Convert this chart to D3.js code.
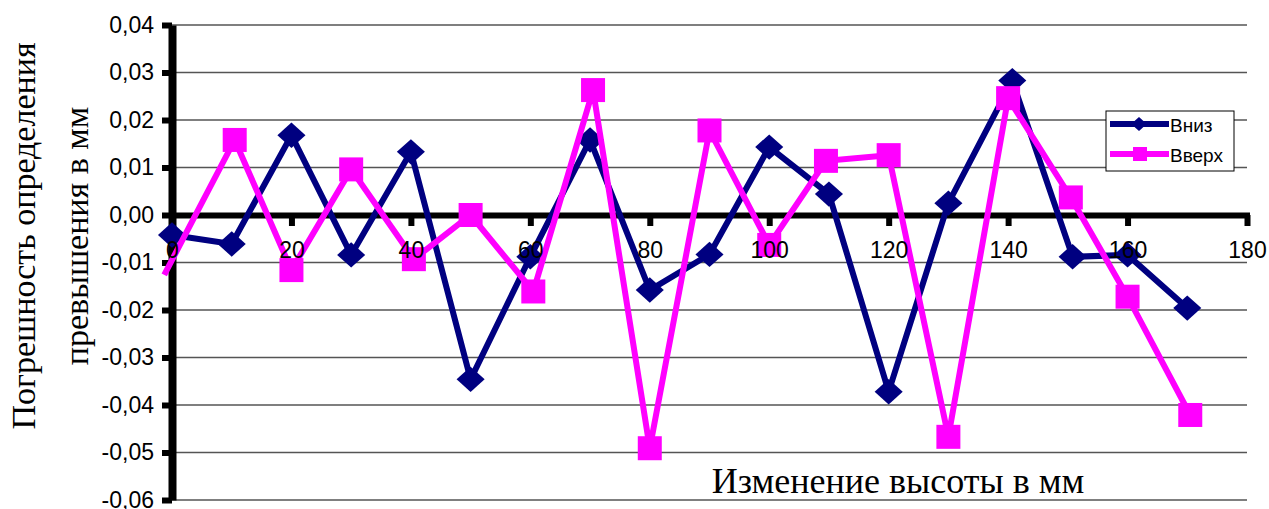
<!DOCTYPE html>
<html>
<head>
<meta charset="utf-8">
<script src="https://cdn.jsdelivr.net/npm/d3@7/dist/d3.min.js"></script>
<style>
  html, body { margin: 0; padding: 0; background: #fff; }
  svg { display: block; }
</style>
</head>
<body>
<svg id="chart" width="1269" height="509"></svg>
<script>
// Height change (mm) at which each error was measured
const downHeights = [0, 10, 20, 30, 40, 50, 60, 70, 80, 90, 100, 110, 120, 130, 140.7, 150.8, 160, 170];
const upHeights   = [-1.3, 10.5, 20, 30, 40.5, 50, 60.5, 70.5, 80, 90, 100, 109.5, 120, 130, 140, 150.5, 160, 170.5];

// Error of the height difference, mm
const downValues = [-0.0042, -0.0061, 0.0168, -0.0084, 0.0133, -0.0346, -0.0088, 0.0158, -0.0158, -0.0083,
                    0.0143, 0.0044, -0.0372, 0.0025, 0.0283, -0.0088, -0.0084, -0.0196];
const upValues   = [-0.0126, 0.0158, -0.0116, 0.0096, -0.0093, 0.0000, -0.0161, 0.0263, -0.0491, 0.0178,
                    -0.0063, 0.0114, 0.0126, -0.0467, 0.0246, 0.0037, -0.0172, -0.0421];

const seriesNames = ["Вниз", "Вверх"];
const xTicks = [0, 20, 40, 60, 80, 100, 120, 140, 160, 180];
const yTicks = [-0.06, -0.05, -0.04, -0.03, -0.02, -0.01, 0.00, 0.01, 0.02, 0.03, 0.04];
const yTitleLines = ["Погрешность определения", "превышения в мм"];
const xTitle = "Изменение высоты в мм";

const svg = d3.select("#chart");
const SANS = "'Liberation Sans', Arial, sans-serif";
const SERIF = "'Liberation Serif', 'Times New Roman', serif";

const x = d3.scaleLinear().domain([0, 180]).range([172, 1247]);
const y = d3.scaleLinear().domain([-0.06, 0.04]).range([500, 25]);

const locale = d3.formatLocale({ decimal: ",", thousands: " ", grouping: [3], currency: ["", ""], minus: "-" });
const fmt = locale.format(".2f");

// Horizontal gridlines
svg.append("g")
  .selectAll("line")
  .data(yTicks)
  .join("line")
  .attr("x1", x(0)).attr("x2", x(180))
  .attr("y1", d => y(d)).attr("y2", d => y(d))
  .attr("stroke", "#555").attr("stroke-width", 1.5);

// Axis lines and tick marks (labels are added later, above the series)
const yAxisLines = svg.append("g")
  .attr("transform", `translate(${x(0)},0)`)
  .call(d3.axisLeft(y).tickValues(yTicks).tickSize(10).tickSizeOuter(0).tickFormat(""));
yAxisLines.select(".domain").attr("stroke", "#000").attr("stroke-width", 8);
yAxisLines.selectAll(".tick line").attr("stroke", "#000").attr("stroke-width", 6);

const xAxisLines = svg.append("g")
  .attr("transform", `translate(0,${y(0)})`)
  .call(d3.axisBottom(x).tickValues(xTicks.filter(d => d > 0)).tickSize(11).tickSizeOuter(0).tickFormat(""));
xAxisLines.select(".domain").attr("stroke", "#000").attr("stroke-width", 6)
  .attr("d", `M${x(0)},0.5H${x(180) + 3}`);
xAxisLines.selectAll(".tick line").attr("stroke", "#000").attr("stroke-width", 6);

// Series
const series = [
  { name: seriesNames[0], xs: downHeights, ys: downValues, color: "#000080", marker: "diamond" },
  { name: seriesNames[1], xs: upHeights,   ys: upValues,   color: "#FF00FF", marker: "square" }
];

const line = d3.line().x(d => x(d[0])).y(d => y(d[1]));
const diamondPath = s => `M0,${-s * 0.47}L${s * 0.52},0L0,${s * 0.47}L${-s * 0.52},0Z`;

series.forEach(s => {
  const pts = s.xs.map((h, i) => [h, s.ys[i]]);
  const g = svg.append("g");
  g.append("path")
    .attr("d", line(pts))
    .attr("fill", "none")
    .attr("stroke", s.color)
    .attr("stroke-width", 6)
    .attr("stroke-linejoin", "miter");
  // markers are only shown for points inside the axis range
  const inRange = pts.filter(p => p[0] >= 0 && p[0] <= 180);
  if (s.marker === "diamond") {
    g.selectAll("path.m").data(inRange).join("path")
      .attr("class", "m")
      .attr("transform", p => `translate(${x(p[0])},${y(p[1])})`)
      .attr("d", diamondPath(27))
      .attr("fill", s.color);
  } else {
    const sz = 24;
    g.selectAll("rect.m").data(inRange).join("rect")
      .attr("class", "m")
      .attr("x", p => x(p[0]) - sz / 2).attr("y", p => y(p[1]) - sz / 2)
      .attr("width", sz).attr("height", sz)
      .attr("fill", s.color);
  }
});

// Tick labels drawn over the series
const yLabels = svg.append("g")
  .attr("transform", `translate(${x(0)},0)`)
  .call(d3.axisLeft(y).tickValues(yTicks).tickSize(10).tickPadding(8).tickFormat(fmt));
yLabels.select(".domain").remove();
yLabels.selectAll(".tick line").remove();
yLabels.selectAll("text").attr("font-family", SANS).attr("font-size", 23).attr("fill", "#000");

const xLabels = svg.append("g")
  .attr("transform", `translate(0,${y(0)})`)
  .call(d3.axisBottom(x).tickValues(xTicks).tickSize(11).tickPadding(16).tickFormat(d3.format("d")));
xLabels.select(".domain").remove();
xLabels.selectAll(".tick line").remove();
xLabels.selectAll("text").attr("font-family", SANS).attr("font-size", 23).attr("fill", "#000");

// Legend
const lg = svg.append("g").attr("transform", "translate(1106,111)");
lg.append("rect").attr("width", 128).attr("height", 60)
  .attr("fill", "#fff").attr("stroke", "#000").attr("stroke-width", 1);
series.forEach((s, i) => {
  const cy = 13 + i * 30;
  lg.append("line").attr("x1", 4).attr("x2", 63).attr("y1", cy).attr("y2", cy)
    .attr("stroke", s.color).attr("stroke-width", 6);
  if (s.marker === "diamond") {
    lg.append("path").attr("transform", `translate(33,${cy})`).attr("d", diamondPath(15)).attr("fill", s.color);
  } else {
    lg.append("rect").attr("x", 27).attr("y", cy - 7).attr("width", 14).attr("height", 14).attr("fill", s.color);
  }
  lg.append("text").attr("x", 64).attr("y", cy + 8)
    .attr("font-family", SANS).attr("font-size", 19).attr("fill", "#000")
    .text(s.name);
});

// Axis titles
const yTitle = svg.append("g").attr("font-family", SERIF).attr("font-size", 34).attr("fill", "#000");
yTitleLines.forEach((t, i) => {
  yTitle.append("text")
    .attr("transform", `translate(${35 + i * 53},236) rotate(-90)`)
    .attr("text-anchor", "middle")
    .text(t);
});

svg.append("text")
  .attr("x", 898).attr("y", 493)
  .attr("text-anchor", "middle")
  .attr("font-family", SERIF).attr("font-size", 36).attr("fill", "#000")
  .text(xTitle);
</script>
</body>
</html>
